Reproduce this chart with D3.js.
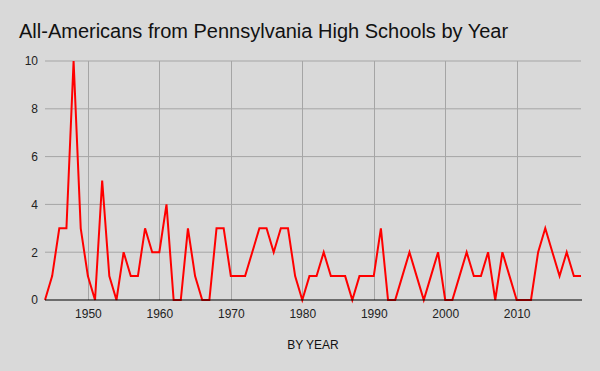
<!DOCTYPE html>
<html>
<head>
<meta charset="utf-8">
<script src="https://cdn.jsdelivr.net/npm/d3@7"></script>
<style>
  body { margin: 0; background: #d9d9d9; }
  svg { display: block; font-family: "Liberation Sans", Arial, sans-serif; }
</style>
</head>
<body>
<div id="chart"></div>
<script>
const years = d3.range(1944, 2020);
const allAmericans = [
    0, 1, 3, 3, 10, 3, 1, 0, 5, 1,          // 1944-1953
    0, 2, 1, 1, 3, 2, 2, 4, 0, 0,           // 1954-1963
    3, 1, 0, 0, 3, 3, 1, 1, 1, 2,           // 1964-1973
    3, 3, 2, 3, 3, 1, 0, 1, 1, 2,           // 1974-1983
    1, 1, 1, 0, 1, 1, 1, 3, 0, 0,           // 1984-1993
    1, 2, 1, 0, 1, 2, 0, 0, 1, 2,           // 1994-2003
    1, 1, 2, 0, 2, 1, 0, 0, 0, 2,           // 2004-2013
    3, 2, 1, 2, 1, 1                        // 2014-2019
];
const yTicks = [0, 2, 4, 6, 8, 10];
const xTicks = [1950, 1960, 1970, 1980, 1990, 2000, 2010];

const data = years.map((y, i) => ({ year: y, count: allAmericans[i] }));

const canvasWidth = 600;
const canvasHeight = 371;
const margin = { top: 61, right: 19, bottom: 71, left: 45 };
const width = canvasWidth - margin.left - margin.right;
const height = canvasHeight - margin.top - margin.bottom;

const svg = d3.select("#chart").append("svg")
    .attr("width", canvasWidth)
    .attr("height", canvasHeight);

svg.append("rect")
    .attr("width", canvasWidth)
    .attr("height", canvasHeight)
    .attr("fill", "#d9d9d9");

// title
svg.append("text")
    .attr("x", 19)
    .attr("y", 38)
    .style("font-size", "20px")
    .attr("fill", "#111")
    .text("All-Americans from Pennsylvania High Schools by Year");

const g = svg.append("g")
    .attr("transform", `translate(${margin.left},${margin.top})`);

const x = d3.scaleLinear()
    .domain([1944, 2019])
    .range([0, width]);

const y = d3.scaleLinear()
    .domain([0, 10])
    .range([height, 0]);

// horizontal grid
g.append("g")
    .selectAll("line")
    .data(yTicks.filter(d => d > 0))
    .join("line")
    .attr("x1", 0)
    .attr("x2", width)
    .attr("y1", d => y(d))
    .attr("y2", d => y(d))
    .attr("stroke", "#a5a5a5")
    .attr("stroke-width", 1);

// vertical grid
g.append("g")
    .selectAll("line")
    .data(xTicks)
    .join("line")
    .attr("x1", d => Math.round(x(d)) + 0.5)
    .attr("x2", d => Math.round(x(d)) + 0.5)
    .attr("y1", 0)
    .attr("y2", height)
    .attr("stroke", "#a5a5a5")
    .attr("stroke-width", 1);

// y axis labels
g.append("g")
    .call(d3.axisLeft(y).tickValues(yTicks).tickSize(0).tickPadding(7))
    .call(a => a.select(".domain").remove())
    .selectAll("text")
    .style("font-size", "12px")
    .style("font-family", "Liberation Sans, Arial, sans-serif")
    .attr("fill", "#222");

// x axis labels
g.append("g")
    .attr("transform", `translate(0,${height})`)
    .call(d3.axisBottom(x).tickValues(xTicks).tickFormat(d3.format("d")).tickSize(0).tickPadding(9))
    .call(a => a.select(".domain").remove())
    .selectAll("text")
    .style("font-size", "12px")
    .style("font-family", "Liberation Sans, Arial, sans-serif")
    .attr("fill", "#222");

// the line
const line = d3.line()
    .x(d => x(d.year))
    .y(d => y(d.count));

g.append("path")
    .datum(data)
    .attr("fill", "none")
    .attr("stroke", "#ff0000")
    .attr("stroke-width", 2)
    .attr("stroke-linejoin", "miter")
    .attr("d", line);

// baseline
g.append("line")
    .attr("x1", 0)
    .attr("x2", width + 1)
    .attr("y1", height)
    .attr("y2", height)
    .attr("stroke", "#000")
    .attr("stroke-width", 1.2);

// x axis title
svg.append("text")
    .attr("x", 313)
    .attr("y", 349)
    .attr("text-anchor", "middle")
    .style("font-size", "12px")
    .attr("fill", "#111")
    .text("BY YEAR");
</script>
</body>
</html>
